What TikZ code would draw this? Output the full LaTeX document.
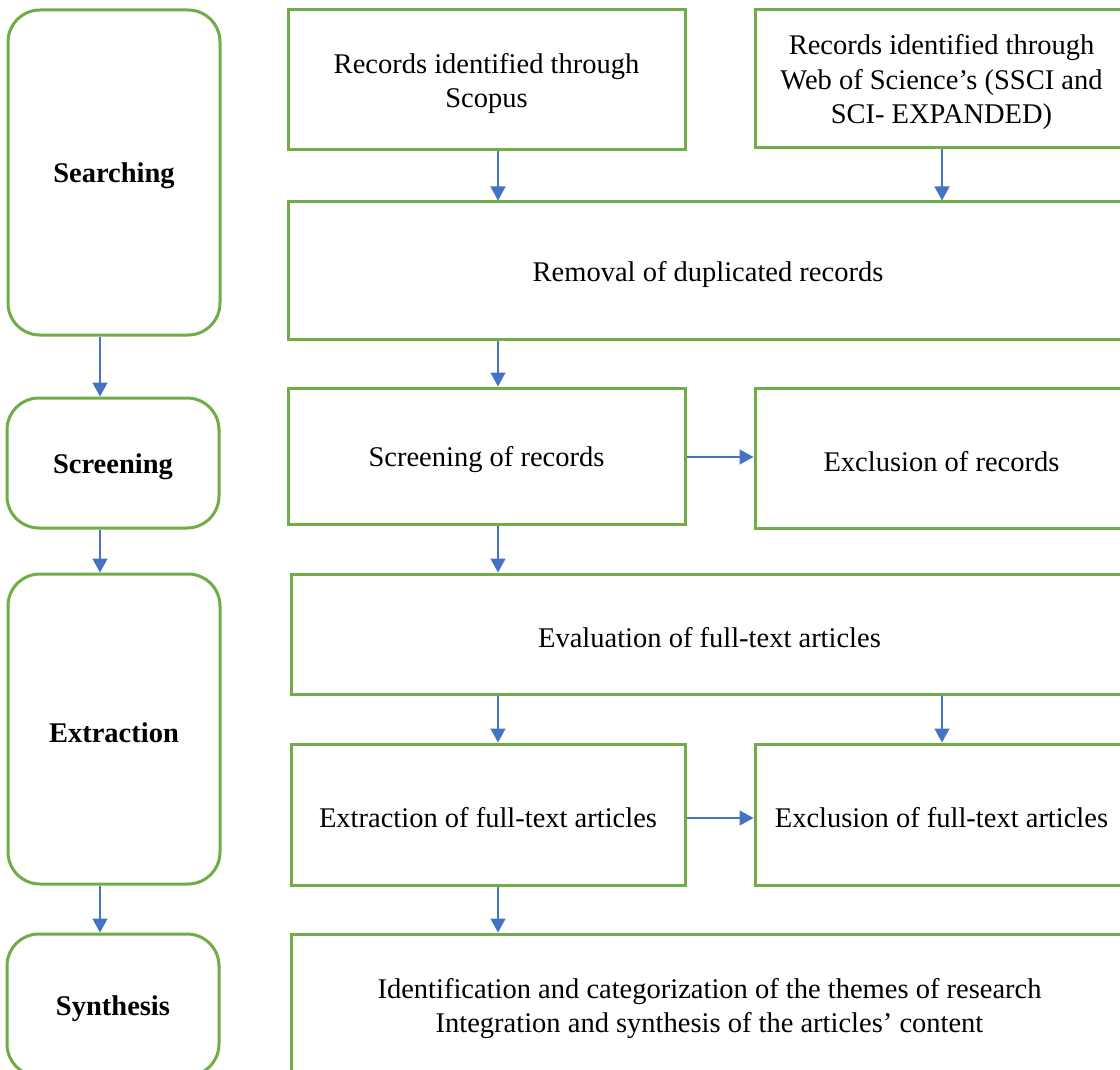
\documentclass[tikz,border=0pt]{standalone}
\usepackage{fontspec}
\setmainfont{Liberation Serif}
\usetikzlibrary{arrows.meta}
\definecolor{boxgreen}{HTML}{70AD47}
\definecolor{arrblue}{HTML}{4472C4}
\begin{document}
\begin{tikzpicture}[x=1pt,y=-1pt,
  box/.style={draw=boxgreen,line width=3pt,fill=white,inner sep=0pt},
  stage/.style={box,rounded corners=32pt},
  txt/.style={align=center,inner sep=0pt,yshift=-3.5pt,font=\fontsize{28.5}{34.5}\selectfont},
  txtb/.style={txt,font=\fontsize{28.5}{34.5}\selectfont\bfseries},
  arr/.style={draw=arrblue,line width=1.5pt,-{Triangle[width=15pt,length=14pt]}}]
\clip (0,0) rectangle (1120,1070);
\fill[white] (0,0) rectangle (1120,1070);
% stages
\node[stage,minimum width=212pt,minimum height=325pt,label={[txtb]center:Searching}] (search) at (114,172.5) {};
\node[stage,minimum width=212pt,minimum height=130pt,label={[txtb]center:Screening}] (screen) at (113,463) {};
\node[stage,minimum width=212pt,minimum height=310pt,label={[txtb]center:Extraction}] (extract) at (114,729) {};
\node[stage,minimum width=212pt,minimum height=142pt,label={[txtb]center:Synthesis}] (synth) at (113,1005) {};
% process boxes
\node[box,minimum width=397pt,minimum height=140pt,label={[txt]center:{Records identified through\\Scopus}}] (scopus) at (486.5,80) {};
\node[box,minimum width=373pt,minimum height=138pt,label={[txt]center:{Records identified through\\Web of Science’s (SSCI and\\SCI- EXPANDED)}}] (wos) at (941.5,79) {};
\node[box,minimum width=840pt,minimum height=137pt,label={[txt]center:Removal of duplicated records}] (removal) at (708,270.5) {};
\node[box,minimum width=397pt,minimum height=136pt,label={[txt]center:Screening of records}] (screc) at (486.5,456) {};
\node[box,minimum width=373pt,minimum height=140pt,label={[txt]center:Exclusion of records}] (exrec) at (941.5,458) {};
\node[box,minimum width=837pt,minimum height=120pt,label={[txt]center:Evaluation of full-text articles}] (eval) at (709.5,634) {};
\node[box,minimum width=394pt,minimum height=141pt,label={[txt]center:Extraction of full-text articles}] (extft) at (488,814.5) {};
\node[box,minimum width=373pt,minimum height=141pt,label={[txt]center:Exclusion of full-text articles}] (exft) at (941.5,814.5) {};
\node[box,minimum width=837pt,minimum height=142pt,label={[txt]center:{Identification and categorization of the themes of research\\Integration and synthesis of the articles’ content}}] (ident) at (709.5,1005) {};
% connector guides
\coordinate (xl) at (100,0);
\coordinate (xm) at (498,0);
\coordinate (xr) at (942,0);
\coordinate (y1) at (0,457);
\coordinate (y2) at (0,818);
% left column
\draw[arr] (search.south -| xl) -- (screen.north -| xl);
\draw[arr] (screen.south -| xl) -- (extract.north -| xl);
\draw[arr] (extract.south -| xl) -- (synth.north -| xl);
% main flow
\draw[arr] (scopus.south -| xm) -- (removal.north -| xm);
\draw[arr] (wos.south -| xr) -- (removal.north -| xr);
\draw[arr] (removal.south -| xm) -- (screc.north -| xm);
\draw[arr] (screc.east |- y1) -- (exrec.west |- y1);
\draw[arr] (screc.south -| xm) -- (eval.north -| xm);
\draw[arr] (eval.south -| xm) -- (extft.north -| xm);
\draw[arr] (eval.south -| xr) -- (exft.north -| xr);
\draw[arr] (extft.east |- y2) -- (exft.west |- y2);
\draw[arr] (extft.south -| xm) -- (ident.north -| xm);
\end{tikzpicture}
\end{document}
